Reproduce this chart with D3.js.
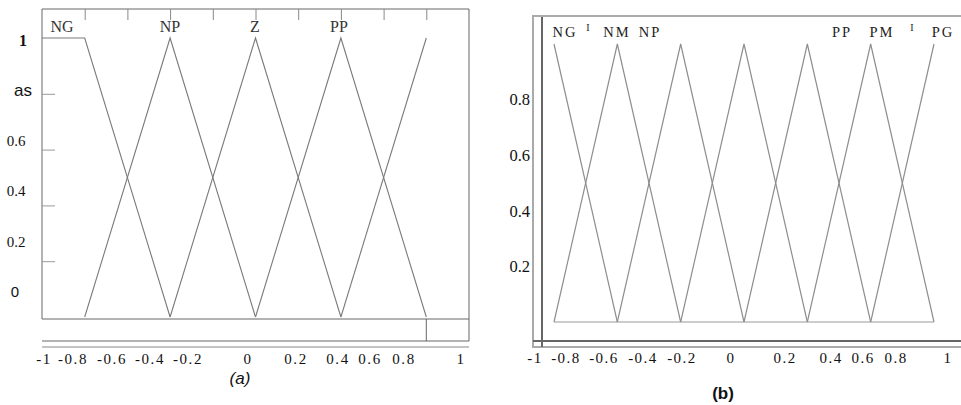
<!DOCTYPE html>
<html>
<head>
    <meta charset="utf-8">
    <title>Membership functions (a) and (b)</title>
    <script src="https://d3js.org/d3.v7.min.js"></script>
    <style>
        body { margin: 0; background: #fff; }
        svg { display: block; }
        .serif { font-family: "Liberation Serif", "Times New Roman", serif; fill: #111; }
        .sans { font-family: "Liberation Sans", Arial, sans-serif; fill: #111; }
        .mf { fill: none; stroke-linejoin: miter; }
    </style>
</head>
<body>
    <svg id="chart" width="961" height="405"></svg>
    <script>
        // ---- data: panel (a), 5 fuzzy sets ----
        const setsA = ["NG", "NP", "Z", "PP", "PG"];
        const centersA = [-1, -0.5, 0, 0.5, 1];
        const halfWidthA = 0.5;
        const shoulderA = -1.25;            // NG stays at 1 down to here
        const topTicksA = [-1, -0.75, -0.5, -0.25, 0, 0.25, 0.5, 0.75, 1];
        const leftTicksA = [0.2, 0.4, 0.6, 0.8];
        const yLabelsA = ["0", "0.2", "0.4", "0.6", "as", "1"];
        const yLabelValsA = [0, 0.2, 0.4, 0.6, 0.8, 1];

        // ---- data: panel (b), 7 fuzzy sets ----
        const setsB = ["NG", "NM", "NP", "Z", "PP", "PM", "PG"];
        const centersB = [-1, -2 / 3, -1 / 3, 0, 1 / 3, 2 / 3, 1];
        const halfWidthB = 1 / 3;
        const yTicksB = [0.2, 0.4, 0.6, 0.8];

        // printed x-axis labels (same for both panels)
        const xLabels = ["-1", "-0.8", "-0.6", "-0.4", "-0.2", "0", "0.2", "0.4", "0.6", "0.8", "1"];
        const xLabelVals = [-1, -0.8, -0.6, -0.4, -0.2, 0, 0.2, 0.4, 0.6, 0.8, 1];

        const svg = d3.select("#chart");

        // membership polyline for set i
        function mfPoints(i, centers, hw, shoulder) {
            const c = centers[i];
            if (i === 0) return shoulder !== undefined
                ? [[shoulder, 1], [c, 1], [c + hw, 0]]
                : [[c, 1], [c + hw, 0]];
            if (i === centers.length - 1) return [[c - hw, 0], [c, 1]];
            return [[c - hw, 0], [c, 1], [c + hw, 0]];
        }

        // ================= panel (a) =================
        const xA = d3.scaleLinear().domain([-1.25, 1.25]).range([42, 469]);
        const yA = d3.scaleLinear().domain([0, 1]).range([317, 38]);
        const gA = svg.append("g");
        const frameA = "#666";

        // frame
        gA.append("path")
            .attr("d", `M${xA(-1.25)},${yA(0) + 2}V9H${xA(1.25)}V341`)
            .attr("fill", "none").attr("stroke", frameA);
        [yA(0) + 2, 341].forEach(y => gA.append("line")
            .attr("x1", xA(-1.25)).attr("x2", xA(1.25)).attr("y1", y).attr("y2", y)
            .attr("stroke", frameA));
        gA.append("line")
            .attr("x1", xA(-1.25)).attr("x2", xA(1.25)).attr("y1", 347).attr("y2", 347)
            .attr("stroke", "#888");
        gA.append("line")
            .attr("x1", xA(1)).attr("x2", xA(1)).attr("y1", yA(0) + 2).attr("y2", 341)
            .attr("stroke", frameA);

        // top ticks
        gA.append("g").attr("transform", "translate(0,9)")
            .call(d3.axisBottom(xA).tickValues(topTicksA).tickSize(11).tickFormat(""))
            .call(g => g.select(".domain").remove())
            .call(g => g.selectAll("line").attr("stroke", "#888"));
        // left ticks
        gA.append("g").attr("transform", `translate(${xA(-1.25)},0)`)
            .call(d3.axisRight(yA).tickValues(leftTicksA).tickSize(13).tickFormat(""))
            .call(g => g.select(".domain").remove())
            .call(g => g.selectAll("line").attr("stroke", "#999"));

        const lineA = d3.line().x(d => xA(d[0])).y(d => yA(d[1]));
        gA.selectAll(".mfA").data(setsA).join("path")
            .attr("class", "mf")
            .attr("d", (d, i) => lineA(mfPoints(i, centersA, halfWidthA, shoulderA)))
            .attr("stroke", "#7a7a7a").attr("stroke-width", 1.1);

        // set names
        const nameXA = [62, 170, 255, 339];
        gA.selectAll(".nameA").data(setsA.slice(0, 4)).join("text")
            .attr("class", "serif")
            .attr("x", (d, i) => nameXA[i]).attr("y", 32)
            .attr("text-anchor", "middle")
            .attr("font-size", 16).style("fill", "#333")
            .text(d => d);

        // y labels (printed scale)
        const yLabA = d3.scaleLinear().domain([0, 1]).range([292, 40]);
        gA.selectAll(".ylabA").data(yLabelsA).join("text")
            .attr("class", (d, i) => (i === 0 || i === 4) ? "sans" : "serif")
            .attr("x", (d, i) => i === 5 ? 23 : i === 4 ? 23 : i === 0 ? 15 : 16)
            .attr("y", (d, i) => yLabA(yLabelValsA[i]))
            .attr("dy", "0.35em")
            .attr("text-anchor", "middle")
            .attr("font-size", (d, i) => i === 4 ? 17 : i === 5 ? 16 : 15)
            .attr("font-weight", (d, i) => i === 5 ? "bold" : null)
            .text(d => d);

        // printed x labels
        const xLabA = d3.scaleLinear()
            .domain([-1, -0.8, -0.6, -0.4, -0.2, 0, 0.2, 0.4, 0.6, 0.8, 1])
            .range([44, 73, 112, 150, 188, 248, 296, 338, 370, 404, 461]);
        gA.selectAll(".xlabA").data(xLabels).join("text")
            .attr("class", "serif")
            .attr("x", (d, i) => xLabA(xLabelVals[i]))
            .attr("y", 364)
            .attr("text-anchor", "middle")
            .attr("font-size", 15)
            .style("letter-spacing", "1.6px")
            .text(d => d);

        gA.append("text").attr("class", "sans")
            .attr("x", 240).attr("y", 384)
            .attr("text-anchor", "middle")
            .attr("font-size", 17).attr("font-style", "italic")
            .text("(a)");

        // ================= panel (b) =================
        const xB = d3.scaleLinear().domain([-1, 1]).range([554, 934]);
        const yB = d3.scaleLinear().domain([0, 1]).range([322, 44]);
        const gB = svg.append("g");

        // outer light frame
        gB.append("path")
            .attr("d", "M961,16H533V347H961")
            .attr("fill", "none").attr("stroke", "#aaa").attr("stroke-width", 2);
        // inner dark lines
        gB.append("line").attr("x1", 542).attr("x2", 542).attr("y1", 17).attr("y2", 347)
            .attr("stroke", "#666").attr("stroke-width", 2);
        gB.append("line").attr("x1", 533).attr("x2", 961).attr("y1", 341).attr("y2", 341)
            .attr("stroke", "#666").attr("stroke-width", 2);

        const lineB = d3.line().x(d => xB(d[0])).y(d => yB(d[1]));
        gB.append("path").attr("class", "mf")
            .attr("d", lineB([[-1, 0], [1, 0]]))
            .attr("stroke", "#9a9a9a").attr("stroke-width", 1.1);
        gB.selectAll(".mfB").data(setsB).join("path")
            .attr("class", "mf")
            .attr("d", (d, i) => lineB(mfPoints(i, centersB, halfWidthB)))
            .attr("stroke", "#8e8e8e").attr("stroke-width", 1.2);

        // y axis labels
        gB.append("g").attr("transform", "translate(530,0)")
            .call(d3.axisLeft(yB).tickValues(yTicksB).tickSize(0).tickPadding(0).tickFormat(d3.format(".1f")))
            .call(g => g.select(".domain").remove())
            .call(g => g.selectAll("text")
                .attr("class", "serif")
                .attr("font-size", 16.5)
                .attr("font-family", null));

        // set names (as printed, with stray marks)
        const namesB = ["NG", "I", "NM", "NP", "PP", "PM", "I", "PG"];
        const nameXB = [565, 588, 617, 650, 842, 882, 912, 943];
        gB.selectAll(".nameB").data(namesB).join("text")
            .attr("class", "serif")
            .attr("x", (d, i) => nameXB[i])
            .attr("y", d => d === "I" ? 31 : 37)
            .attr("text-anchor", "middle")
            .attr("font-size", d => d === "I" ? 10 : 14.5)
            .style("letter-spacing", d => d === "I" ? null : "2px")
            .style("fill", "#222")
            .text(d => d);

        const xLabB = d3.scaleLinear()
            .domain([-1, -0.8, -0.6, -0.4, -0.2, 0, 0.2, 0.4, 0.6, 0.8, 1])
            .range([535, 566, 604, 643, 682, 731, 785, 831, 863, 896, 948]);
        gB.selectAll(".xlabB").data(xLabels).join("text")
            .attr("class", "serif")
            .attr("x", (d, i) => xLabB(xLabelVals[i]))
            .attr("y", 363)
            .attr("text-anchor", "middle")
            .attr("font-size", 15)
            .style("letter-spacing", "1.5px")
            .text(d => d);

        gB.append("text").attr("class", "sans")
            .attr("x", 723).attr("y", 399)
            .attr("text-anchor", "middle")
            .attr("font-size", 17).attr("font-weight", "bold")
            .text("(b)");
    </script>
</body>
</html>
